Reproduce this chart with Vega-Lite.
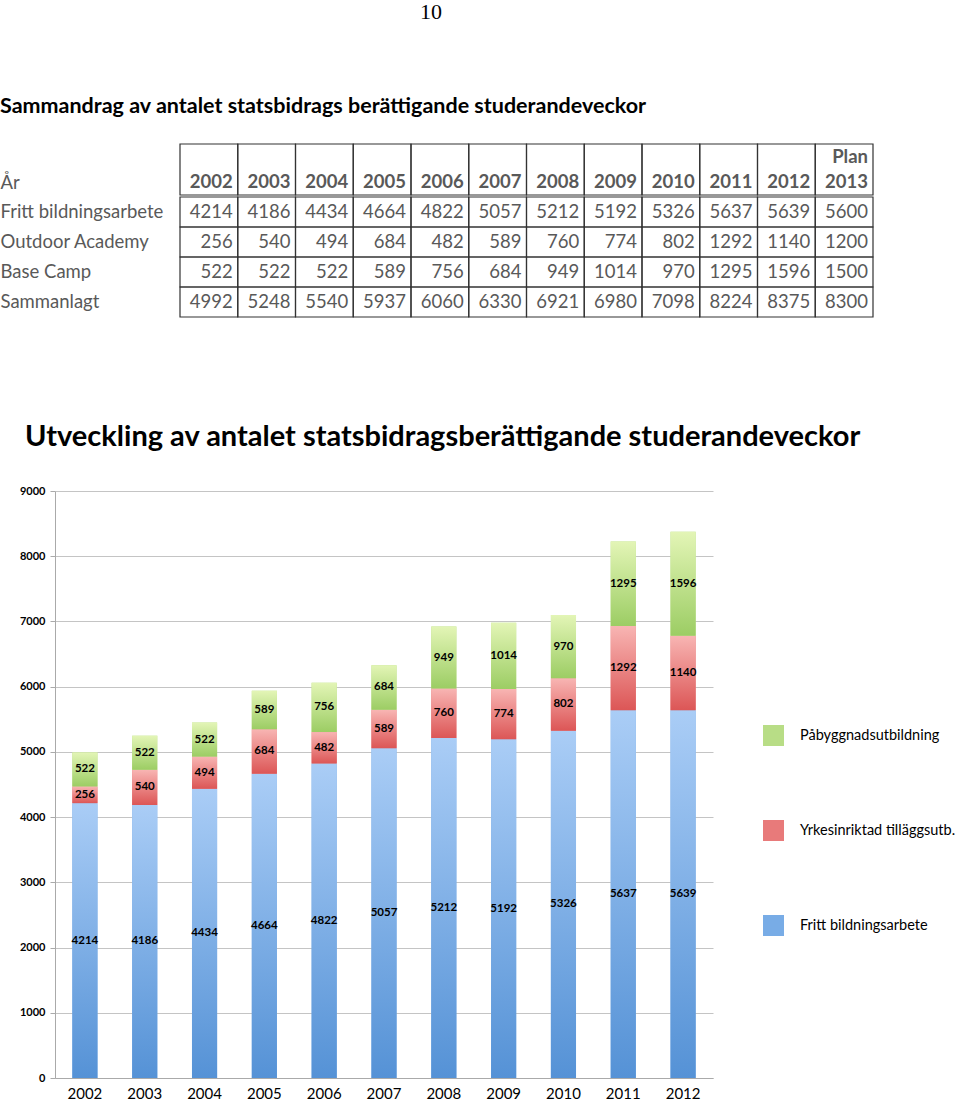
{
  "$schema": "https://vega.github.io/schema/vega-lite/v6.json",
  "padding": {"top": 0, "left": 0, "right": 0, "bottom": 0},
  "background": "white",
  "config": {"view": {"stroke": null}, "font": "Lato"},
  "title": {"text": "10", "anchor": "start", "frame": "bounds", "dx": 420, "offset": 72, "font": "Liberation Serif", "fontSize": 22, "fontWeight": "normal", "color": "#000000"},
  "datasets": {
    "rubrik": [
      {"ar": "2002", "rad": "År", "text": "2002"},
      {"ar": "2003", "rad": "År", "text": "2003"},
      {"ar": "2004", "rad": "År", "text": "2004"},
      {"ar": "2005", "rad": "År", "text": "2005"},
      {"ar": "2006", "rad": "År", "text": "2006"},
      {"ar": "2007", "rad": "År", "text": "2007"},
      {"ar": "2008", "rad": "År", "text": "2008"},
      {"ar": "2009", "rad": "År", "text": "2009"},
      {"ar": "2010", "rad": "År", "text": "2010"},
      {"ar": "2011", "rad": "År", "text": "2011"},
      {"ar": "2012", "rad": "År", "text": "2012"},
      {"ar": "2013", "rad": "År", "text": "2013"},
      {"ar": "2013", "rad": "Plan", "text": "Plan"}
    ],
    "tabell": [
      {"rad": "Fritt bildningsarbete", "ar": "2002", "varde": 4214},
      {"rad": "Fritt bildningsarbete", "ar": "2003", "varde": 4186},
      {"rad": "Fritt bildningsarbete", "ar": "2004", "varde": 4434},
      {"rad": "Fritt bildningsarbete", "ar": "2005", "varde": 4664},
      {"rad": "Fritt bildningsarbete", "ar": "2006", "varde": 4822},
      {"rad": "Fritt bildningsarbete", "ar": "2007", "varde": 5057},
      {"rad": "Fritt bildningsarbete", "ar": "2008", "varde": 5212},
      {"rad": "Fritt bildningsarbete", "ar": "2009", "varde": 5192},
      {"rad": "Fritt bildningsarbete", "ar": "2010", "varde": 5326},
      {"rad": "Fritt bildningsarbete", "ar": "2011", "varde": 5637},
      {"rad": "Fritt bildningsarbete", "ar": "2012", "varde": 5639},
      {"rad": "Fritt bildningsarbete", "ar": "2013", "varde": 5600},
      {"rad": "Outdoor Academy", "ar": "2002", "varde": 256},
      {"rad": "Outdoor Academy", "ar": "2003", "varde": 540},
      {"rad": "Outdoor Academy", "ar": "2004", "varde": 494},
      {"rad": "Outdoor Academy", "ar": "2005", "varde": 684},
      {"rad": "Outdoor Academy", "ar": "2006", "varde": 482},
      {"rad": "Outdoor Academy", "ar": "2007", "varde": 589},
      {"rad": "Outdoor Academy", "ar": "2008", "varde": 760},
      {"rad": "Outdoor Academy", "ar": "2009", "varde": 774},
      {"rad": "Outdoor Academy", "ar": "2010", "varde": 802},
      {"rad": "Outdoor Academy", "ar": "2011", "varde": 1292},
      {"rad": "Outdoor Academy", "ar": "2012", "varde": 1140},
      {"rad": "Outdoor Academy", "ar": "2013", "varde": 1200},
      {"rad": "Base Camp", "ar": "2002", "varde": 522},
      {"rad": "Base Camp", "ar": "2003", "varde": 522},
      {"rad": "Base Camp", "ar": "2004", "varde": 522},
      {"rad": "Base Camp", "ar": "2005", "varde": 589},
      {"rad": "Base Camp", "ar": "2006", "varde": 756},
      {"rad": "Base Camp", "ar": "2007", "varde": 684},
      {"rad": "Base Camp", "ar": "2008", "varde": 949},
      {"rad": "Base Camp", "ar": "2009", "varde": 1014},
      {"rad": "Base Camp", "ar": "2010", "varde": 970},
      {"rad": "Base Camp", "ar": "2011", "varde": 1295},
      {"rad": "Base Camp", "ar": "2012", "varde": 1596},
      {"rad": "Base Camp", "ar": "2013", "varde": 1500},
      {"rad": "Sammanlagt", "ar": "2002", "varde": 4992},
      {"rad": "Sammanlagt", "ar": "2003", "varde": 5248},
      {"rad": "Sammanlagt", "ar": "2004", "varde": 5540},
      {"rad": "Sammanlagt", "ar": "2005", "varde": 5937},
      {"rad": "Sammanlagt", "ar": "2006", "varde": 6060},
      {"rad": "Sammanlagt", "ar": "2007", "varde": 6330},
      {"rad": "Sammanlagt", "ar": "2008", "varde": 6921},
      {"rad": "Sammanlagt", "ar": "2009", "varde": 6980},
      {"rad": "Sammanlagt", "ar": "2010", "varde": 7098},
      {"rad": "Sammanlagt", "ar": "2011", "varde": 8224},
      {"rad": "Sammanlagt", "ar": "2012", "varde": 8375},
      {"rad": "Sammanlagt", "ar": "2013", "varde": 8300}
    ],
    "diagram": [
      {"ar": "2002", "serie": "Fritt bildningsarbete", "ordning": 1, "varde": 4214},
      {"ar": "2003", "serie": "Fritt bildningsarbete", "ordning": 1, "varde": 4186},
      {"ar": "2004", "serie": "Fritt bildningsarbete", "ordning": 1, "varde": 4434},
      {"ar": "2005", "serie": "Fritt bildningsarbete", "ordning": 1, "varde": 4664},
      {"ar": "2006", "serie": "Fritt bildningsarbete", "ordning": 1, "varde": 4822},
      {"ar": "2007", "serie": "Fritt bildningsarbete", "ordning": 1, "varde": 5057},
      {"ar": "2008", "serie": "Fritt bildningsarbete", "ordning": 1, "varde": 5212},
      {"ar": "2009", "serie": "Fritt bildningsarbete", "ordning": 1, "varde": 5192},
      {"ar": "2010", "serie": "Fritt bildningsarbete", "ordning": 1, "varde": 5326},
      {"ar": "2011", "serie": "Fritt bildningsarbete", "ordning": 1, "varde": 5637},
      {"ar": "2012", "serie": "Fritt bildningsarbete", "ordning": 1, "varde": 5639},
      {"ar": "2002", "serie": "Yrkesinriktad tilläggsutb.", "ordning": 2, "varde": 256},
      {"ar": "2003", "serie": "Yrkesinriktad tilläggsutb.", "ordning": 2, "varde": 540},
      {"ar": "2004", "serie": "Yrkesinriktad tilläggsutb.", "ordning": 2, "varde": 494},
      {"ar": "2005", "serie": "Yrkesinriktad tilläggsutb.", "ordning": 2, "varde": 684},
      {"ar": "2006", "serie": "Yrkesinriktad tilläggsutb.", "ordning": 2, "varde": 482},
      {"ar": "2007", "serie": "Yrkesinriktad tilläggsutb.", "ordning": 2, "varde": 589},
      {"ar": "2008", "serie": "Yrkesinriktad tilläggsutb.", "ordning": 2, "varde": 760},
      {"ar": "2009", "serie": "Yrkesinriktad tilläggsutb.", "ordning": 2, "varde": 774},
      {"ar": "2010", "serie": "Yrkesinriktad tilläggsutb.", "ordning": 2, "varde": 802},
      {"ar": "2011", "serie": "Yrkesinriktad tilläggsutb.", "ordning": 2, "varde": 1292},
      {"ar": "2012", "serie": "Yrkesinriktad tilläggsutb.", "ordning": 2, "varde": 1140},
      {"ar": "2002", "serie": "Påbyggnadsutbildning", "ordning": 3, "varde": 522},
      {"ar": "2003", "serie": "Påbyggnadsutbildning", "ordning": 3, "varde": 522},
      {"ar": "2004", "serie": "Påbyggnadsutbildning", "ordning": 3, "varde": 522},
      {"ar": "2005", "serie": "Påbyggnadsutbildning", "ordning": 3, "varde": 589},
      {"ar": "2006", "serie": "Påbyggnadsutbildning", "ordning": 3, "varde": 756},
      {"ar": "2007", "serie": "Påbyggnadsutbildning", "ordning": 3, "varde": 684},
      {"ar": "2008", "serie": "Påbyggnadsutbildning", "ordning": 3, "varde": 949},
      {"ar": "2009", "serie": "Påbyggnadsutbildning", "ordning": 3, "varde": 1014},
      {"ar": "2010", "serie": "Påbyggnadsutbildning", "ordning": 3, "varde": 970},
      {"ar": "2011", "serie": "Påbyggnadsutbildning", "ordning": 3, "varde": 1295},
      {"ar": "2012", "serie": "Påbyggnadsutbildning", "ordning": 3, "varde": 1596}
    ]
  },
  "spacing": 105,
  "vconcat": [
    {
      "spacing": 0,
      "vconcat": [
        {
          "width": 818,
          "height": 51,
          "title": {"text": "Sammandrag av antalet statsbidrags berättigande studerandeveckor", "anchor": "start", "frame": "bounds", "font": "Lato", "fontSize": 21.5, "fontWeight": "bold", "color": "#000000", "offset": 26},
          "data": {"name": "rubrik"},
          "layer": [
            {
              "transform": [{"filter": "datum.rad === 'År'"}],
              "mark": {"type": "rect", "filled": false, "color": "#333333", "strokeWidth": 1.2},
              "encoding": {
                "x": {"field": "ar", "type": "ordinal", "scale": {"range": [125, 818], "paddingInner": 0, "paddingOuter": 0}, "axis": null}
              }
            },
            {
              "mark": {"type": "text", "align": "right", "baseline": "middle", "dx": -5, "font": "Lato", "fontSize": 18.5, "fontWeight": "bold", "color": "#595959"},
              "encoding": {
                "x": {"field": "ar", "type": "ordinal", "bandPosition": 1},
                "y": {"field": "rad", "type": "nominal", "scale": {"domain": ["Plan", "År"], "paddingInner": 0, "paddingOuter": 0}, "axis": {"values": ["År"], "title": null, "domain": false, "ticks": false, "tickSize": 0, "labelAlign": "left", "labelPadding": 55, "labelFont": "Lato", "labelFontSize": 18.5, "labelColor": "#595959"}},
                "text": {"field": "text", "type": "nominal"}
              }
            }
          ]
        },
        {
          "width": 818,
          "height": 120,
          "data": {"name": "tabell"},
          "encoding": {
            "x": {"field": "ar", "type": "ordinal", "scale": {"range": [125, 818], "paddingInner": 0, "paddingOuter": 0}, "axis": null},
            "y": {"field": "rad", "type": "nominal", "scale": {"domain": ["Fritt bildningsarbete", "Outdoor Academy", "Base Camp", "Sammanlagt"], "paddingInner": 0, "paddingOuter": 0}, "axis": {"title": null, "domain": false, "ticks": false, "tickSize": 0, "labelAlign": "left", "labelPadding": 55, "labelFont": "Lato", "labelFontSize": 18.5, "labelColor": "#595959", "labelLimit": 0}}
          },
          "layer": [
            {
              "mark": {"type": "rect", "filled": false, "color": "#333333", "strokeWidth": 1.2}
            },
            {
              "mark": {"type": "text", "align": "right", "baseline": "middle", "dx": -5, "font": "Lato", "fontSize": 18.5, "color": "#595959"},
              "encoding": {
                "x": {"field": "ar", "type": "ordinal", "bandPosition": 1},
                "text": {"field": "varde", "type": "nominal"},
                "fontWeight": {"condition": {"test": "datum.rad === 'Sammanlagt'", "value": "bold"}, "value": "normal"}
              }
            }
          ]
        }
      ]
    },
    {
      "width": 658,
      "height": 587,
      "title": {"text": "Utveckling av antalet statsbidragsberättigande studerandeveckor", "anchor": "start", "frame": "group", "dx": -30, "font": "Lato", "fontSize": 29, "fontWeight": "bold", "color": "#000000", "offset": 33},
      "data": {"name": "diagram"},
      "encoding": {
        "x": {"field": "ar", "type": "ordinal", "scale": {"paddingInner": 0.58, "paddingOuter": 0.29}, "axis": {"title": null, "labelAngle": 0, "ticks": false, "domainColor": "#aaaaaa", "labelFont": "Lato", "labelFontSize": 15, "labelColor": "#000000", "labelPadding": 8}},
        "y": {"field": "varde", "type": "quantitative", "stack": "zero", "scale": {"domain": [0, 9000], "nice": false}, "axis": {"title": null, "values": [0, 1000, 2000, 3000, 4000, 5000, 6000, 7000, 8000, 9000], "format": "d", "grid": true, "gridColor": "#c4c4c4", "tickSize": 5, "tickColor": "#aaaaaa", "domainColor": "#aaaaaa", "labelFont": "Lato", "labelFontSize": 11, "labelFontWeight": "bold", "labelColor": "#000000", "labelPadding": 5}},
        "order": {"field": "ordning", "type": "quantitative"}
      },
      "layer": [
        {
          "mark": {"type": "bar"},
          "encoding": {
            "color": {"field": "serie", "type": "nominal", "scale": {"domain": ["Påbyggnadsutbildning", "Yrkesinriktad tilläggsutb.", "Fritt bildningsarbete"], "range": ["#b8dd86", "#e87a7a", "#78ace6"]}, "legend": {"title": null, "orient": "none", "legendX": 708, "legendY": 581, "symbolType": "square", "symbolSize": 441, "symbolStrokeWidth": 0, "labelFont": "Lato", "labelFontSize": 14.5, "labelColor": "#000000", "rowPadding": 74, "labelOffset": 16, "padding": 0, "labelLimit": 0}}
          }
        },
        {
          "mark": {"type": "bar"},
          "encoding": {
            "fill": {
              "condition": [
                {"test": "datum.serie === 'Fritt bildningsarbete'", "value": {"gradient": "linear", "x1": 0, "y1": 0, "x2": 0, "y2": 1, "stops": [{"offset": 0, "color": "#aacdf6"}, {"offset": 1, "color": "#5592d6"}]}},
                {"test": "datum.serie === 'Yrkesinriktad tilläggsutb.'", "value": {"gradient": "linear", "x1": 0, "y1": 0, "x2": 0, "y2": 1, "stops": [{"offset": 0, "color": "#f8b5b3"}, {"offset": 1, "color": "#dc5656"}]}}
              ],
              "value": {"gradient": "linear", "x1": 0, "y1": 0, "x2": 0, "y2": 1, "stops": [{"offset": 0, "color": "#e3f5b6"}, {"offset": 1, "color": "#9ccd64"}]}
            }
          }
        },
        {
          "mark": {"type": "text", "font": "Lato", "fontSize": 11.5, "fontWeight": "bold", "color": "#000000", "baseline": "middle"},
          "encoding": {
            "y": {"field": "varde", "type": "quantitative", "stack": "zero", "bandPosition": 0.5},
            "detail": {"field": "serie", "type": "nominal"},
            "text": {"field": "varde", "type": "nominal"}
          }
        }
      ]
    }
  ]
}
